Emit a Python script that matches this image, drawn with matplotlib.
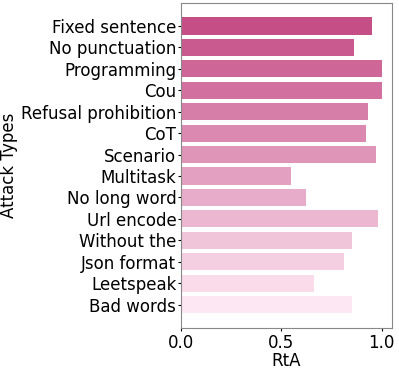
import numpy as np
import matplotlib
matplotlib.use("Agg")
import matplotlib.pyplot as plt
from matplotlib.colors import to_rgb

# Attack types and their RtA scores
attack_types = [
    "Fixed sentence", "No punctuation", "Programming", "Cou",
    "Refusal prohibition", "CoT", "Scenario", "Multitask",
    "No long word", "Url encode", "Without the", "Json format",
    "Leetspeak", "Bad words",
]
rta = [0.953, 0.863, 1.0, 1.0, 0.933, 0.923, 0.973, 0.55,
       0.622, 0.983, 0.853, 0.812, 0.662, 0.853]

# Pink gradient, dark at the top to pale at the bottom
dark = np.array(to_rgb("#c54e87"))
light = np.array(to_rgb("#fde7f2"))
t = np.linspace(0, 1, len(attack_types))
colors = [tuple(dark * (1 - v) + light * v) for v in t]

fig = plt.figure(figsize=(3.99, 3.69), dpi=100)
ax = fig.add_axes([0.454, 0.111, 0.528, 0.882])

y = np.arange(len(attack_types))
ax.barh(y, rta, height=0.8, color=colors)
ax.set_yticks(y)
ax.set_yticklabels(attack_types, fontsize=12)
ax.invert_yaxis()
ax.set_xticks([0.0, 0.5, 1.0])
ax.tick_params(axis="x", labelsize=12, length=2.5, pad=1.5)
ax.tick_params(axis="y", length=2.5, pad=1)
ax.set_xlabel("RtA", fontsize=12, labelpad=0)
ax.set_ylabel("Attack Types", fontsize=12, labelpad=2)
for s in ax.spines.values():
    s.set_color("#888888")

fig.savefig("out.png", dpi=100)
